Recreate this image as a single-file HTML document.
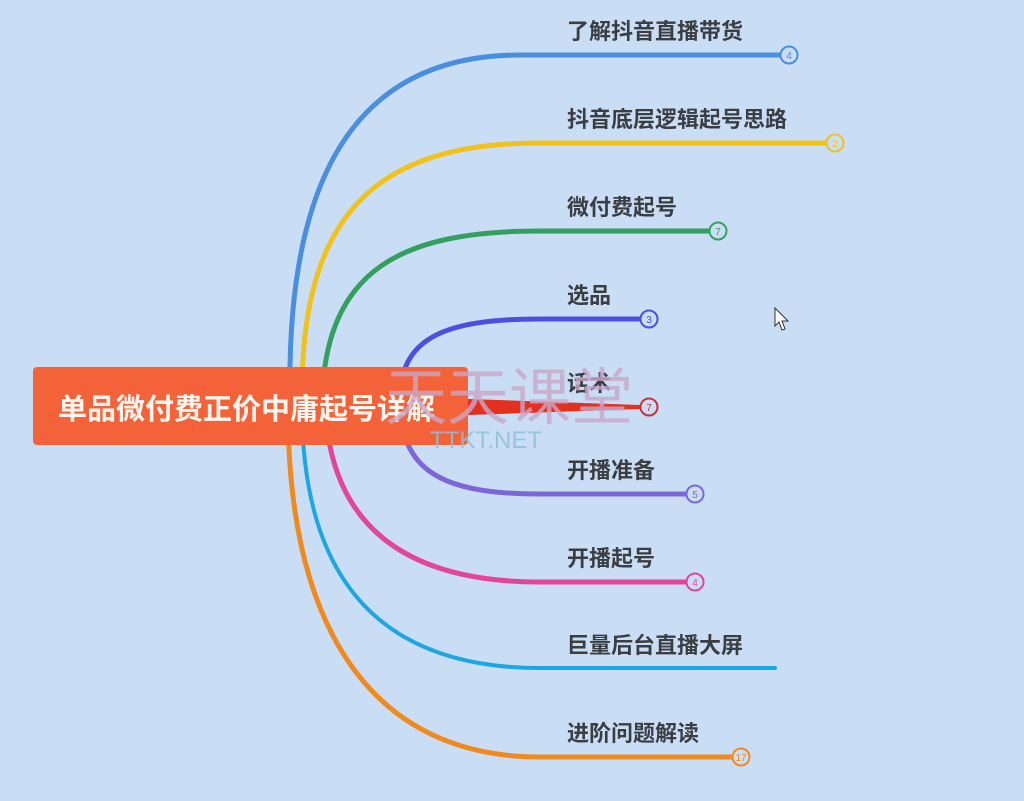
<!DOCTYPE html>
<html><head><meta charset="utf-8"><style>
html,body{margin:0;padding:0;background:#c9def5;}
svg{display:block}
.t{font-family:"Liberation Sans","Noto Sans CJK SC",sans-serif;font-weight:bold;font-size:22px;fill:#3a3d42}
.n{font-family:"Liberation Sans",sans-serif;font-size:10px;text-anchor:middle}
</style></head><body>
<svg width="1024" height="801" viewBox="0 0 1024 801" xmlns="http://www.w3.org/2000/svg">
<rect width="1024" height="801" fill="#c9def5"/>
<g fill="none" stroke-linecap="round">
<path d="M290,400 C286,170 360,55 520,55 L780,55" stroke="#4a8ede" stroke-width="5"/>
<path d="M302,400 C300,210 380,143 540,143 L826,143" stroke="#f1c21a" stroke-width="5"/>
<path d="M322,400 C326,270 400,231 540,231 L709,231" stroke="#34a060" stroke-width="5"/>
<path d="M400,400 C400,340 440,319 540,319 L640,319" stroke="#4c4fe0" stroke-width="5"/>
<path d="M400,400 C400,470 440,494 540,494 L686,494" stroke="#7e66d8" stroke-width="5"/>
<path d="M325,400 C328,530 410,582 540,582 L686,582" stroke="#e2459a" stroke-width="5"/>
<path d="M302,400 C300,590 390,668 540,668 L775,668" stroke="#1ea6e2" stroke-width="4"/>
<path d="M288,400 C286,640 380,757 540,757 L732,757" stroke="#f08a1e" stroke-width="5"/>
</g>
<path d="M440,398 L640,405 L640,409 L440,416 Z" fill="#e3301f"/>
<g stroke-width="2" fill="#c9def5">
<circle cx="789" cy="55" r="8.5" stroke="#4a8ede"/>
<circle cx="835" cy="143" r="8.5" stroke="#f1c21a"/>
<circle cx="718" cy="231" r="8.5" stroke="#34a060"/>
<circle cx="649" cy="319" r="8.5" stroke="#4c4fe0"/>
<circle cx="649" cy="407" r="8.5" stroke="#c8303a"/>
<circle cx="695" cy="494" r="8.5" stroke="#7e66d8"/>
<circle cx="695" cy="582" r="8.5" stroke="#e2459a"/>
<circle cx="741" cy="757" r="8.5" stroke="#f08a1e"/>
</g>
<text class="n" x="789" y="59" fill="#4a8ede">4</text>
<text class="n" x="835" y="147" fill="#f1c21a">2</text>
<text class="n" x="718" y="235" fill="#34a060">7</text>
<text class="n" x="649" y="323" fill="#4c4fe0">3</text>
<text class="n" x="649" y="411" fill="#c8303a">7</text>
<text class="n" x="695" y="498" fill="#7e66d8">5</text>
<text class="n" x="695" y="586" fill="#e2459a">4</text>
<text class="n" x="741" y="761" fill="#f08a1e">17</text>
<text class="t" x="567" y="39">了解抖音直播带货</text>
<text class="t" x="567" y="127">抖音底层逻辑起号思路</text>
<text class="t" x="567" y="215">微付费起号</text>
<text class="t" x="567" y="303">选品</text>
<text class="t" x="567" y="391">话术</text>
<text class="t" x="567" y="478">开播准备</text>
<text class="t" x="567" y="566">开播起号</text>
<text class="t" x="567" y="653">巨量后台直播大屏</text>
<text class="t" x="567" y="741">进阶问题解读</text>
<rect x="33" y="367" width="435" height="78" rx="4" fill="#f4623a"/>
<text x="58" y="419" font-family="'Liberation Sans','Noto Sans CJK SC',sans-serif" font-weight="bold" font-size="29" fill="#fff5ee">单品微付费正价中庸起号详解</text>
<text x="385" y="419" font-family="'Liberation Sans','Noto Sans CJK SC',sans-serif" font-size="62" fill="#c9a8c8" opacity="0.8">天天课堂</text>
<text x="430" y="448" font-family="'Liberation Sans',sans-serif" font-size="24" fill="#8fc0d8" opacity="0.85">TTKT.NET</text>
<path d="M775,308 L775,326 L779,322 L782,330 L785,329 L782,321 L788,321 Z" fill="#fff" stroke="#333" stroke-width="1"/>
</svg>
</body></html>
